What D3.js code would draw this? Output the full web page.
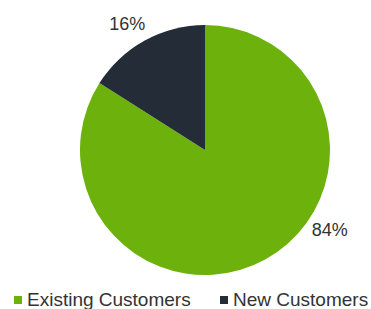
<!DOCTYPE html>
<html>
<head>
<meta charset="utf-8">
<script src="https://cdn.jsdelivr.net/npm/d3@7"></script>
<style>
  body { margin: 0; background: #fff; }
  svg { display: block; font-family: "Liberation Sans", Arial, sans-serif; }
</style>
</head>
<body>
<div id="chart"></div>
<script>
const categories = ['Existing Customers', 'New Customers'];
const values = [84, 16];
const colors = ['#6cb10c', '#232c37'];

const width = 371;
const height = 309;
const cx = 205, cy = 150, radius = 125;

const svg = d3.select('#chart')
  .append('svg')
  .attr('width', width)
  .attr('height', height);

const data = categories.map((c, i) => ({ name: c, value: values[i], color: colors[i] }));

const pie = d3.pie()
  .sort(null)
  .value(d => d.value);

const arc = d3.arc()
  .innerRadius(0)
  .outerRadius(radius);

const slices = pie(data);

const g = svg.append('g')
  .attr('transform', `translate(${cx}, ${cy})`);

g.selectAll('path')
  .data(slices)
  .enter()
  .append('path')
  .attr('d', arc)
  .attr('fill', d => d.data.color);

// labels sit just outside the rim; the big slice's label is pulled up toward the right edge
const labelR = radius + 23;
const labelShift = [-0.5, -0.05]; // radians off each slice's middle

g.selectAll('text.pct')
  .data(slices)
  .enter()
  .append('text')
  .attr('class', 'pct')
  .attr('transform', (d, i) => {
    const a = (d.startAngle + d.endAngle) / 2 + labelShift[i];
    return `translate(${Math.sin(a) * labelR}, ${-Math.cos(a) * labelR})`;
  })
  .attr('text-anchor', 'middle')
  .attr('dy', '0.35em')
  .attr('font-size', 18)
  .attr('fill', '#333')
  .text(d => d.data.value + '%');

// legend
const legendX = [14, 220];
const legend = svg.append('g')
  .selectAll('g')
  .data(data)
  .enter()
  .append('g')
  .attr('transform', (d, i) => `translate(${legendX[i]}, 296)`);

legend.append('rect')
  .attr('width', 8)
  .attr('height', 8)
  .attr('fill', d => d.color);

legend.append('text')
  .attr('x', 13)
  .attr('y', 10)
  .attr('font-size', 19)
  .attr('fill', '#333')
  .text(d => d.name);
</script>
</body>
</html>
